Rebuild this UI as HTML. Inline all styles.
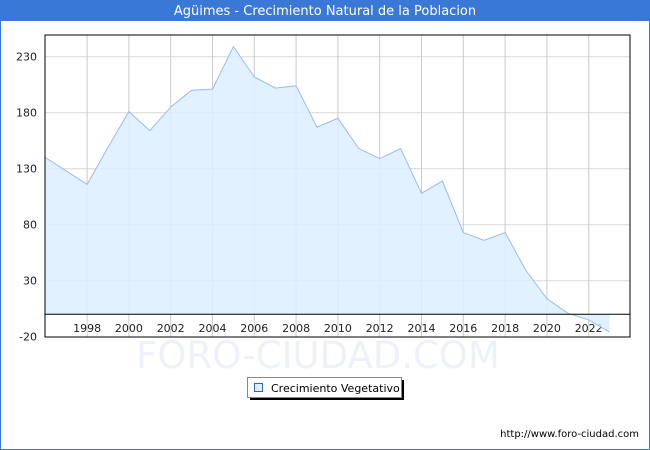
<!DOCTYPE html>
<html><head><meta charset="utf-8"><style>
body{margin:0;background:#fff;font-family:"DejaVu Sans","Liberation Sans",sans-serif;}
#wrap{position:relative;width:648px;height:448px;border:1px solid #3a78d8;overflow:hidden;}
#title{position:absolute;left:0;top:0;width:648px;height:20px;background:#3a78d8;color:#fff;font-size:13px;text-align:center;line-height:21px;}
svg{position:absolute;left:-1px;top:-1px;}
</style></head><body>
<div id="wrap">
<div id="title">Agüimes - Crecimiento Natural de la Poblacion</div>
<svg id="chart" width="650" height="450"></svg>
</div>
<script>
const years=[1996,1997,1998,1999,2000,2001,2002,2003,2004,2005,2006,2007,2008,2009,2010,2011,2012,2013,2014,2015,2016,2017,2018,2019,2020,2021,2022,2023];
const values=[140,128,116,149,181,164,185,200,201,239,212,202,204,167,175,148,139,148,108,119,73,66,73,39,14,1,-5,-16];
const yTicks=[-20,30,80,130,180,230];
const xTicks=[1998,2000,2002,2004,2006,2008,2010,2012,2014,2016,2018,2020,2022];
const NS="http://www.w3.org/2000/svg";
const svg=document.getElementById('chart');
const L=45,R=630,T=35,B=337;
const x=v=>45.3+(v-1996)*20.9;
const y=v=>314.3-v*1.12;
function mk(t,a,p){const e=document.createElementNS(NS,t);for(const k in a)e.setAttribute(k,a[k]);(p||svg).appendChild(e);return e;}
const wm=mk('text',{x:318,y:368,'text-anchor':'middle','font-size':'37',fill:'#eef1f8','font-family':'"DejaVu Sans",sans-serif'});


wm.textContent='FORO-CIUDAD.COM';
const bg=mk('rect',{x:L,y:T,width:R-L,height:B-T,fill:'#fff',stroke:'none'});


yTicks.forEach(v=>{
 if(v>-20){const g=mk('line',{x1:L,x2:R,y1:y(v),y2:y(v),stroke:'#d8d8d8','stroke-width':1});
 
 }
 const t=mk('text',{x:37,y:y(v)+4,'text-anchor':'end','font-size':'11',fill:'#222'});
 
 
 t.textContent=v;
});
xTicks.forEach(v=>{
 const g=mk('line',{x1:x(v),x2:x(v),y1:T,y2:B,stroke:'#cccccc','stroke-width':1});
 
 
 const t=mk('text',{x:x(v),y:332,'text-anchor':'middle','font-size':'11',fill:'#222'});
 
 
 t.textContent=v;
});
let d='M'+x(years[0])+','+y(0);
years.forEach((yr,i)=>{d+=' L'+x(yr)+','+y(values[i]);});
d+=' L'+x(years[years.length-1])+','+y(0)+' Z';
const area=mk('path',{d:d,fill:'#ddeeff','fill-opacity':0.85,stroke:'none'});


const line=mk('polyline',{points:years.map((yr,i)=>x(yr)+','+y(values[i])).join(' '),fill:'none',stroke:'#99bbee','stroke-width':1});


const zl=mk('line',{x1:L,x2:R,y1:y(0),y2:y(0),stroke:'#000','stroke-width':1});


const fr=mk('rect',{x:L,y:T,width:R-L,height:B-T,fill:'none',stroke:'#000','stroke-width':1});


const lg=mk('g',{});


mk('rect',{x:250,y:380,width:154,height:20,fill:'#000'},lg);
mk('rect',{x:247.5,y:377.5,width:154,height:20,fill:'#fff',stroke:'#888'},lg);
const sw=mk('rect',{x:254.5,y:383.5,width:8,height:8,fill:'#ddeeff',stroke:'#3366aa'},lg);


const lt=mk('text',{x:271,y:392,'font-size':'11',fill:'#000'},lg);


lt.textContent='Crecimiento Vegetativo';
const ft=mk('text',{x:639,y:437,'text-anchor':'end','font-size':'10',fill:'#000'});


ft.textContent='http://www.foro-ciudad.com';
</script>
</body></html>
